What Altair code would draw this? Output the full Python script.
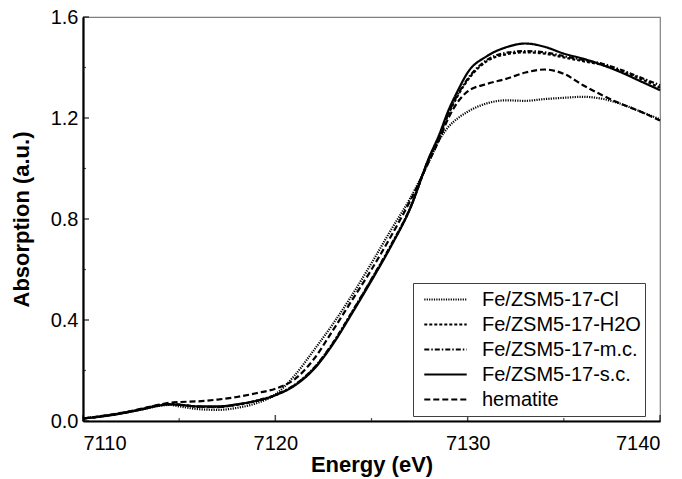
import altair as alt
import pandas as pd

# ---- data ----
energy = [7110, 7111, 7112, 7113, 7114, 7114.5, 7115, 7116, 7117, 7118, 7119, 7120,
          7121, 7122, 7123, 7124, 7125, 7126, 7127, 7128, 7128.5, 7129, 7129.5, 7130,
          7131, 7132, 7133, 7134, 7135, 7136, 7137, 7138, 7139, 7140]

series_names = ["Fe/ZSM5-17-Cl", "Fe/ZSM5-17-H2O", "Fe/ZSM5-17-m.c.", "Fe/ZSM5-17-s.c.", "hematite"]

cl = [0.010, 0.019, 0.030, 0.045, 0.060, 0.064, 0.058, 0.047, 0.044, 0.052, 0.070, 0.105,
      0.180, 0.280, 0.385, 0.500, 0.625, 0.755, 0.880, 1.030, 1.110, 1.165, 1.200, 1.225,
      1.258, 1.270, 1.268, 1.275, 1.280, 1.284, 1.276, 1.255, 1.225, 1.195]
h2o = [0.010, 0.019, 0.031, 0.046, 0.063, 0.067, 0.065, 0.056, 0.055, 0.064, 0.079, 0.102,
       0.142, 0.208, 0.308, 0.432, 0.560, 0.693, 0.840, 1.040, 1.120, 1.215, 1.290, 1.350,
       1.425, 1.452, 1.460, 1.455, 1.440, 1.425, 1.410, 1.385, 1.355, 1.320]
mc = [0.010, 0.019, 0.031, 0.046, 0.063, 0.067, 0.065, 0.057, 0.056, 0.065, 0.080, 0.103,
      0.143, 0.210, 0.310, 0.434, 0.562, 0.695, 0.842, 1.042, 1.122, 1.220, 1.295, 1.355,
      1.430, 1.458, 1.465, 1.460, 1.445, 1.430, 1.415, 1.390, 1.360, 1.330]
sc = [0.010, 0.018, 0.030, 0.045, 0.062, 0.066, 0.064, 0.058, 0.058, 0.066, 0.080, 0.102,
      0.140, 0.205, 0.305, 0.428, 0.556, 0.690, 0.840, 1.045, 1.130, 1.230, 1.310, 1.380,
      1.445, 1.480, 1.495, 1.482, 1.455, 1.435, 1.410, 1.380, 1.345, 1.310]
hem = [0.010, 0.020, 0.032, 0.048, 0.065, 0.072, 0.075, 0.078, 0.085, 0.095, 0.110, 0.128,
       0.165, 0.245, 0.360, 0.480, 0.600, 0.730, 0.870, 1.030, 1.110, 1.200, 1.265, 1.305,
       1.335, 1.355, 1.380, 1.392, 1.375, 1.330, 1.290, 1.255, 1.225, 1.190]

x_major = [7110, 7120, 7130, 7140]
x_minor = [7115, 7125, 7135]
y_major = [0.0, 0.4, 0.8, 1.2, 1.6]
y_minor = [0.2, 0.6, 1.0, 1.4]

values = [cl, h2o, mc, sc, hem]
rows = []
for name, vals in zip(series_names, values):
    for e, v in zip(energy, vals):
        rows.append({"energy": e, "absorption": v, "series": name})
df = pd.DataFrame(rows)

FONT = "Liberation Sans"
xscale = alt.Scale(domain=[7110, 7140], nice=False, zero=False)
yscale = alt.Scale(domain=[0, 1.6], nice=False)

dashes = [[1.2, 1.2], [3, 2], [5, 2, 1.5, 2], [1, 0], [6, 3]]
widths = [2.2, 2.2, 1.8, 2.8, 2.8]

lines = alt.Chart(df).mark_line(interpolate="monotone", color="black").encode(
    x=alt.X("energy:Q", scale=xscale,
            axis=alt.Axis(values=x_major, format="d", title="Energy (eV)", ticks=False,
                          labelPadding=12, titlePadding=1, grid=False)),
    y=alt.Y("absorption:Q", scale=yscale,
            axis=alt.Axis(values=y_major, format=".1f", title="Absorption (a.u.)", ticks=False,
                          labelPadding=5, titlePadding=17, grid=False)),
    strokeDash=alt.StrokeDash("series:N", sort=series_names,
                              scale=alt.Scale(domain=series_names, range=dashes),
                              legend=alt.Legend(title=None)),
    strokeWidth=alt.StrokeWidth("series:N", sort=series_names,
                                scale=alt.Scale(domain=series_names, range=widths),
                                legend=alt.Legend(title=None)),
    order=alt.Order("series:N"),
)

xt_major = alt.Chart(pd.DataFrame({"t": x_major})).mark_tick(
    orient="vertical", size=6, thickness=1.5, color="black", yOffset=-3).encode(
    x=alt.X("t:Q", scale=xscale), y=alt.datum(0, scale=yscale))
xt_minor = alt.Chart(pd.DataFrame({"t": x_minor})).mark_tick(
    orient="vertical", size=3, thickness=1.2, color="black", yOffset=-1.5).encode(
    x=alt.X("t:Q", scale=xscale), y=alt.datum(0, scale=yscale))
yt_major = alt.Chart(pd.DataFrame({"t": y_major})).mark_tick(
    orient="horizontal", size=6, thickness=1.5, color="black", xOffset=3).encode(
    y=alt.Y("t:Q", scale=yscale), x=alt.datum(7110, scale=xscale))
yt_minor = alt.Chart(pd.DataFrame({"t": y_minor})).mark_tick(
    orient="horizontal", size=3, thickness=1.2, color="black", xOffset=1.5).encode(
    y=alt.Y("t:Q", scale=yscale), x=alt.datum(7110, scale=xscale))

chart = alt.layer(lines, xt_major, xt_minor, yt_major, yt_minor).properties(
    width=577, height=404,
    autosize=alt.AutoSizeParams(type="none"),
    padding={"left": 83, "top": 17, "right": 22, "bottom": 58},
    background="white",
).configure_view(
    stroke="#808080", strokeWidth=1.2
).configure_axis(
    labelFont=FONT, titleFont=FONT, labelFontSize=20, titleFontSize=22,
    labelColor="black", titleColor="black", titleFontWeight="bold",
    domainColor="black", domainWidth=2.2,
).configure_legend(
    orient="none", legendX=330, legendY=266,
    strokeColor="#404040", fillColor="white", padding=4,
    labelFont=FONT, labelFontSize=20, labelColor="black", labelLimit=400,
    symbolType="stroke", symbolSize=1800, symbolStrokeColor="black",
    symbolOffset=6, clipHeight=25, rowPadding=0, labelOffset=14,
)

chart.save("out.html", embed_options={"renderer": "svg", "actions": False})
